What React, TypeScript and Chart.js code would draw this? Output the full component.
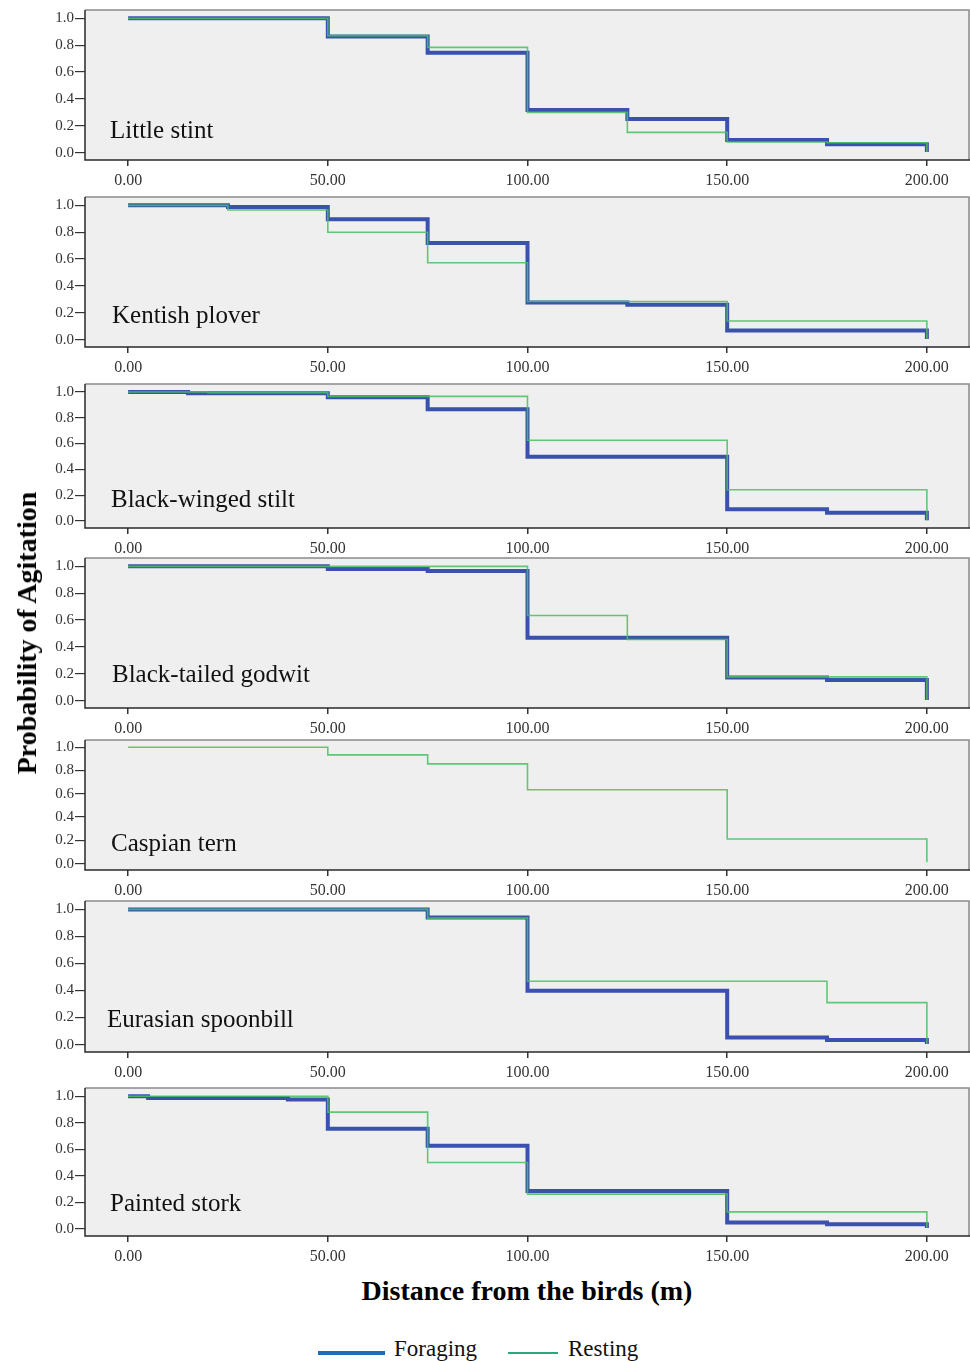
import React, { useEffect, useRef } from "react";
import { Chart, registerables } from "chart.js";
Chart.register(...registerables);

// ---------- data ----------
const X_TICKS = [0, 50, 100, 150, 200];
const Y_TICKS = [0, 0.2, 0.4, 0.6, 0.8, 1.0];
const SPECIES = [
  "Little stint",
  "Kentish plover",
  "Black-winged stilt",
  "Black-tailed godwit",
  "Caspian tern",
  "Eurasian spoonbill",
  "Painted stork",
];
const SERIES_NAMES = ["Foraging", "Resting"];

const littleStintForagingX = [0, 50, 75, 100, 125, 150, 175, 200];
const littleStintForagingY = [1, 0.864, 0.744, 0.318, 0.25, 0.094, 0.062, 0.005];
const littleStintRestingX = [0, 50, 75, 100, 125, 150, 175, 200];
const littleStintRestingY = [1, 0.871, 0.784, 0.3, 0.151, 0.079, 0.074, 0.005];

const kentishForagingX = [0, 25, 50, 75, 100, 125, 150, 200];
const kentishForagingY = [1, 0.987, 0.896, 0.719, 0.276, 0.259, 0.067, 0.005];
const kentishRestingX = [0, 25, 50, 75, 100, 150, 200];
const kentishRestingY = [1, 0.965, 0.8, 0.572, 0.284, 0.139, 0.005];

const stiltForagingX = [0, 15, 50, 75, 100, 150, 175, 200];
const stiltForagingY = [1, 0.99, 0.96, 0.866, 0.497, 0.09, 0.064, 0.005];
const stiltRestingX = [0, 20, 50, 100, 150, 200];
const stiltRestingY = [1, 0.995, 0.966, 0.626, 0.242, 0.005];

const godwitForagingX = [0, 50, 75, 100, 150, 175, 200];
const godwitForagingY = [1, 0.98, 0.965, 0.468, 0.172, 0.154, 0.005];
const godwitRestingX = [0, 100, 125, 150, 200];
const godwitRestingY = [1, 0.634, 0.455, 0.177, 0.005];

const ternRestingX = [0, 50, 75, 100, 150, 200];
const ternRestingY = [1, 0.934, 0.857, 0.634, 0.211, 0.012];

const spoonbillForagingX = [0, 75, 100, 150, 175, 200];
const spoonbillForagingY = [1, 0.94, 0.399, 0.052, 0.034, 0.005];
const spoonbillRestingX = [0, 75, 100, 175, 200];
const spoonbillRestingY = [1, 0.935, 0.468, 0.31, 0.005];

const storkForagingX = [0, 5, 40, 50, 75, 100, 150, 175, 200];
const storkForagingY = [1, 0.987, 0.975, 0.754, 0.627, 0.284, 0.046, 0.033, 0.005];
const storkRestingX = [0, 50, 75, 100, 150, 200];
const storkRestingY = [1, 0.88, 0.5, 0.261, 0.127, 0.005];

const FORAGING_X = [littleStintForagingX, kentishForagingX, stiltForagingX, godwitForagingX, null, spoonbillForagingX, storkForagingX];
const FORAGING_Y = [littleStintForagingY, kentishForagingY, stiltForagingY, godwitForagingY, null, spoonbillForagingY, storkForagingY];
const RESTING_X = [littleStintRestingX, kentishRestingX, stiltRestingX, godwitRestingX, ternRestingX, spoonbillRestingX, storkRestingX];
const RESTING_Y = [littleStintRestingY, kentishRestingY, stiltRestingY, godwitRestingY, ternRestingY, spoonbillRestingY, storkRestingY];

// ---------- layout (page px) ----------
const LAYOUT = [
  { top: 10, h: 150, lx: 110, ly: 129 },
  { top: 197, h: 150, lx: 112, ly: 314 },
  { top: 384, h: 144, lx: 111, ly: 498 },
  { top: 558, h: 150, lx: 112, ly: 673 },
  { top: 740, h: 130, lx: 111, ly: 842 },
  { top: 901, h: 151, lx: 107, ly: 1018 },
  { top: 1088, h: 148, lx: 110, ly: 1202 },
];
const PAD_TOP = 10;
const X_AXIS_H = 32;
const Y_AXIS_W = 85;

const FONT = "'Liberation Serif', 'Times New Roman', serif";

const panelBg = {
  id: "panelBg",
  beforeDraw(chart: any) {
    const { ctx, chartArea: a } = chart;
    ctx.save();
    ctx.fillStyle = "#efefef";
    ctx.fillRect(a.left, a.top, a.right - a.left, a.bottom - a.top);
    ctx.restore();
  },
  afterDraw(chart: any) {
    const { ctx, chartArea: a } = chart;
    ctx.save();
    ctx.lineWidth = 1.5;
    ctx.strokeStyle = "#8a8a8a";
    ctx.beginPath();
    ctx.moveTo(a.left, a.top);
    ctx.lineTo(a.right - 1, a.top);
    ctx.lineTo(a.right - 1, a.bottom);
    ctx.stroke();
    ctx.strokeStyle = "#2a2a2a";
    ctx.beginPath();
    ctx.moveTo(a.left, a.top);
    ctx.lineTo(a.left, a.bottom);
    ctx.lineTo(a.right, a.bottom);
    ctx.stroke();
    ctx.restore();
  },
};

function Panel({ idx }: { idx: number }) {
  const ref = useRef<HTMLCanvasElement>(null);
  const L = LAYOUT[idx];
  const height = L.h + PAD_TOP + X_AXIS_H;
  useEffect(() => {
    const datasets: any[] = [];
    const fx = FORAGING_X[idx];
    const fy = FORAGING_Y[idx];
    if (fx && fy) {
      datasets.push({
        label: SERIES_NAMES[0],
        data: fx.map((x, i) => ({ x, y: fy[i] })),
        borderColor: "#3a51ad",
        borderWidth: 4,
        stepped: true,
        pointRadius: 0,
        fill: false,
        order: 2,
        borderCapStyle: "butt",
        borderJoinStyle: "miter",
      });
    }
    const rx = RESTING_X[idx];
    const ry = RESTING_Y[idx];
    datasets.push({
      label: SERIES_NAMES[1],
      data: rx.map((x, i) => ({ x, y: ry[i] })),
      borderColor: "rgba(72,192,98,0.85)",
      borderWidth: 1.6,
      stepped: true,
      pointRadius: 0,
      fill: false,
      order: 1,
      borderJoinStyle: "miter",
    });
    const chart = new Chart(ref.current as HTMLCanvasElement, {
      type: "line",
      data: { datasets },
      plugins: [panelBg],
      options: {
        animation: false,
        responsive: false,
        devicePixelRatio: 1,
        layout: { padding: { top: PAD_TOP, right: 0, left: 0, bottom: 0 } },
        plugins: { legend: { display: false }, tooltip: { enabled: false } },
        scales: {
          x: {
            type: "linear",
            min: -10.8,
            max: 210.8,
            afterBuildTicks: (s: any) => {
              s.ticks = X_TICKS.map((v) => ({ value: v }));
            },
            afterFit: (s: any) => {
              s.height = X_AXIS_H;
            },
            ticks: {
              callback: (v: any) => Number(v).toFixed(2),
              font: { family: FONT, size: 16 },
              color: "#333",
              padding: 5,
              maxRotation: 0,
              autoSkip: false,
            },
            grid: { display: true, drawOnChartArea: false, drawTicks: true, tickLength: 6, color: "#333", lineWidth: 1.5 },
            border: { display: false },
          },
          y: {
            type: "linear",
            min: -0.055,
            max: 1.062,
            afterBuildTicks: (s: any) => {
              s.ticks = Y_TICKS.map((v) => ({ value: v }));
            },
            afterFit: (s: any) => {
              s.width = Y_AXIS_W;
            },
            ticks: {
              callback: (v: any) => Number(v).toFixed(1),
              font: { family: FONT, size: 15 },
              color: "#333",
              padding: 1,
              autoSkip: false,
            },
            grid: { drawOnChartArea: false, drawTicks: true, tickLength: 10, color: "#333", lineWidth: 1.2 },
            border: { display: false },
          },
        },
      },
    });
    return () => chart.destroy();
  }, [idx]);
  return (
    <>
      <canvas
        ref={ref}
        width={970}
        height={height}
        style={{ position: "absolute", left: 0, top: L.top - PAD_TOP, width: 970, height }}
      />
      <div
        style={{
          position: "absolute",
          left: L.lx,
          top: L.ly,
          transform: "translateY(-50%)",
          fontFamily: FONT,
          fontSize: 25,
          color: "#111",
          whiteSpace: "nowrap",
          lineHeight: 1,
        }}
      >
        {SPECIES[idx]}
      </div>
    </>
  );
}

export default function App() {
  return (
    <div style={{ position: "absolute", left: 0, top: 0, width: 970, height: 1361, background: "#fff", overflow: "hidden" }}>
      {SPECIES.map((_, i) => (
        <Panel key={i} idx={i} />
      ))}
      <div
        style={{
          position: "absolute",
          left: 27,
          top: 633,
          transform: "translate(-50%, -50%) rotate(-90deg)",
          fontFamily: FONT,
          fontWeight: "bold",
          fontSize: 28,
          color: "#000",
          whiteSpace: "nowrap",
          lineHeight: 1,
        }}
      >
        Probability of Agitation
      </div>
      <div
        style={{
          position: "absolute",
          left: 527,
          top: 1291,
          transform: "translate(-50%, -50%)",
          fontFamily: FONT,
          fontWeight: "bold",
          fontSize: 28,
          color: "#000",
          whiteSpace: "nowrap",
          lineHeight: 1,
        }}
      >
        Distance from the birds (m)
      </div>
      <div style={{ position: "absolute", left: 318, top: 1351, width: 67, height: 4, background: "#1f6cb5" }} />
      <div
        style={{ position: "absolute", left: 394, top: 1348, transform: "translateY(-50%)", fontFamily: FONT, fontSize: 23, color: "#111", lineHeight: 1, whiteSpace: "nowrap" }}
      >
        {SERIES_NAMES[0]}
      </div>
      <div style={{ position: "absolute", left: 508, top: 1352, width: 50, height: 2, background: "#2aa87c" }} />
      <div
        style={{ position: "absolute", left: 568, top: 1348, transform: "translateY(-50%)", fontFamily: FONT, fontSize: 23, color: "#111", lineHeight: 1, whiteSpace: "nowrap" }}
      >
        {SERIES_NAMES[1]}
      </div>
    </div>
  );
}
